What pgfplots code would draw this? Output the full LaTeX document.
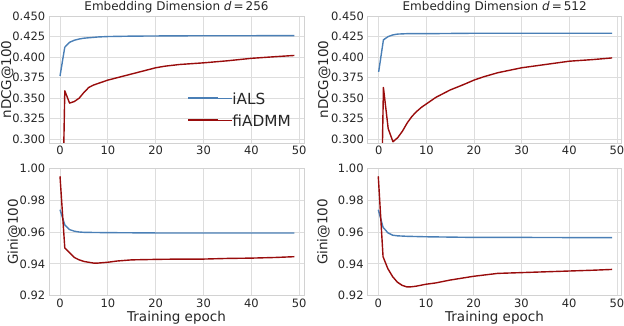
\documentclass[border=0pt]{standalone}
\usepackage{fontspec}
\setmainfont{DejaVu Sans}
\usepackage{pgfplots}
\pgfplotsset{compat=1.18}
\definecolor{ialsc}{HTML}{4A7FB6}
\definecolor{fic}{HTML}{990C0C}
\definecolor{gridc}{HTML}{DDDDDD}
\definecolor{framec}{HTML}{D2D2D2}
\definecolor{txt}{HTML}{262626}
\newcommand{\legfont}{\fontsize{15.3}{18}\selectfont}
\pgfplotsset{
  base/.style={
    scale only axis, anchor=south west,
    xmin=-2.3, xmax=51, xtick={0,10,...,50},
    grid=major, grid style={line width=0.8pt, color=gridc},
    axis line style={line width=0.8pt, color=framec},
    tick style={draw=none},
    /pgf/number format/assume math mode=true,
    tick label style={font=\fontsize{11.5}{13}\selectfont, text=txt},
    yticklabel style={inner sep=0pt, xshift=-3.5pt},
    xticklabel style={inner sep=0pt, yshift=-3pt},
    label style={font=\fontsize{13.5}{15}\selectfont, text=txt},
    title style={font=\fontsize{12}{14}\selectfont, text=txt, at={(axis description cs:0.5,1)}, anchor=base, yshift=-1pt},
    every axis plot/.append style={line width=1.4pt, line join=round, mark=none},
  },
  top/.style={
    base, height=127pt, ymin=0.2955, ymax=0.450,
    ytick={0.300,0.325,...,0.450},
    yticklabel style={/pgf/number format/.cd, fixed, fixed zerofill, precision=3},
    ylabel={nDCG@100},
  },
  bot/.style={
    base, height=127.4pt, ymin=0.92, ymax=1.00,
    ytick={0.92,0.94,...,1.001},
    yticklabel style={/pgf/number format/.cd, fixed, fixed zerofill, precision=2},
    ylabel={Gini@100},
    xlabel={Training epoch},
    xlabel style={at={(axis description cs:0.5,0)}, anchor=base, yshift=-26pt},
  },
}
\begin{document}
\begin{tikzpicture}
\path[use as bounding box] (0pt,0pt) rectangle (624pt,326pt);
% top left
\begin{axis}[top, at={(49pt,183pt)}, width=255pt,
  title={Embedding Dimension \textit{d}\,=\,256},
  ylabel style={at={(axis description cs:-0.149,0.5)}, anchor=base},
  legend style={at={(axis description cs:0.544,0.395)}, anchor=north west, draw=none, fill=none,
    inner sep=0pt, outer sep=0pt,
    font=\legfont, nodes={font=\legfont, text=txt, inner sep=0pt, text height=11.5pt, text depth=0pt},
    row sep=10.2pt, column sep=0pt},
  legend cell align=left,
  legend image code/.code={\draw[#1, line width=1.3pt] (0pt,0.8pt) -- (30pt,0.8pt); \path (0pt,0pt) -- (43.3pt,0pt);},
]
\addplot[ialsc] coordinates {(0,0.377) (1,0.412) (2,0.418) (3,0.4205) (4,0.422) (5,0.423) (6,0.4235) (7,0.424) (8,0.4245) (10,0.425) (15,0.4255) (20,0.4257) (30,0.426) (40,0.426) (49,0.4262)};
\addlegendentry{iALS}
\addplot[fic] coordinates {(0,0.04) (1,0.359) (2,0.344) (3,0.346) (4,0.350) (5,0.357) (6,0.363) (7,0.366) (8,0.368) (9,0.370) (10,0.372) (12,0.375) (15,0.3795) (18,0.384) (20,0.387) (22,0.389) (25,0.391) (30,0.393) (35,0.3955) (40,0.3985) (45,0.4005) (49,0.402)};
\addlegendentry{f{}iADMM}
\end{axis}
% top right
\begin{axis}[top, at={(367.7pt,183pt)}, width=254pt,
  title={Embedding Dimension \textit{d}\,=\,512},
  ylabel style={at={(axis description cs:-0.156,0.5)}, anchor=base},
]
\addplot[ialsc] coordinates {(0,0.382) (1,0.421) (2,0.425) (3,0.427) (4,0.428) (6,0.4285) (10,0.4285) (20,0.429) (30,0.429) (40,0.429) (49,0.429)};
\addplot[fic] coordinates {(0,0.03) (1,0.363) (2,0.313) (3,0.297) (4,0.302) (5,0.310) (6,0.320) (7,0.328) (8,0.334) (9,0.339) (10,0.343) (12,0.351) (15,0.360) (18,0.367) (20,0.372) (22,0.376) (25,0.381) (30,0.387) (35,0.391) (40,0.395) (45,0.397) (49,0.399)};
\end{axis}
% bottom left
\begin{axis}[bot, at={(49pt,30.3pt)}, width=255pt,
  ylabel style={at={(axis description cs:-0.122,0.5)}, anchor=base},
]
\addplot[ialsc] coordinates {(0,0.974) (1,0.9645) (2,0.9615) (3,0.9605) (4,0.960) (5,0.9598) (7,0.9597) (10,0.9596) (15,0.9595) (20,0.9594) (30,0.9594) (40,0.9594) (49,0.9594)};
\addplot[fic] coordinates {(0,0.995) (1,0.950) (2,0.947) (3,0.944) (4,0.9425) (5,0.9415) (6,0.941) (7,0.9405) (8,0.9405) (10,0.941) (12,0.9418) (15,0.9425) (20,0.9428) (25,0.943) (30,0.943) (35,0.9434) (40,0.9436) (45,0.944) (49,0.9445)};
\end{axis}
% bottom right
\begin{axis}[bot, at={(367.3pt,30.3pt)}, width=254.4pt,
  ylabel style={at={(axis description cs:-0.157,0.5)}, anchor=base},
]
\addplot[ialsc] coordinates {(0,0.974) (1,0.963) (2,0.9595) (3,0.958) (4,0.9576) (6,0.9573) (10,0.957) (20,0.9566) (30,0.9566) (40,0.9565) (49,0.9565)};
\addplot[fic] coordinates {(0,0.995) (1,0.9445) (2,0.937) (3,0.932) (4,0.9285) (5,0.9265) (6,0.9255) (7,0.9256) (8,0.926) (10,0.9272) (12,0.928) (15,0.9298) (20,0.9322) (25,0.934) (30,0.9345) (35,0.935) (40,0.9355) (45,0.936) (49,0.9365)};
\end{axis}
\end{tikzpicture}
\end{document}
